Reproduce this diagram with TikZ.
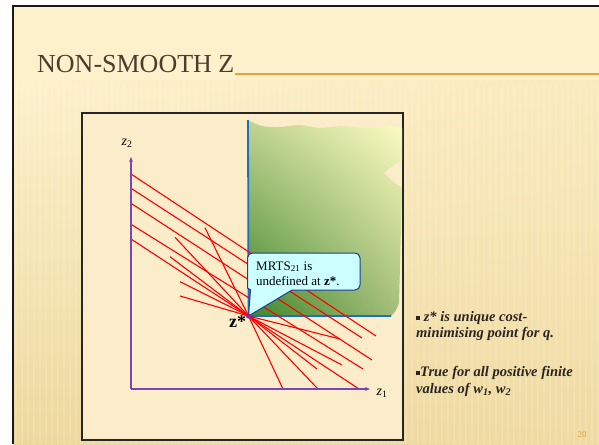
\documentclass[tikz,border=0pt]{standalone}
\usepackage{fontspec}
\setmainfont{Liberation Serif}
\usetikzlibrary{arrows.meta,shadings}
\definecolor{slidebg}{HTML}{FDF1CB}
\definecolor{slidebgB}{HTML}{FAEABD}
\definecolor{slidetan}{HTML}{EDD89C}
\definecolor{slidetanB}{HTML}{EFDAA2}
\definecolor{titlebrown}{HTML}{4B3C30}
\definecolor{ruleorange}{HTML}{E9A23B}
\definecolor{boxbg}{HTML}{FCEDCA}
\definecolor{axispurple}{HTML}{7A45B5}
\definecolor{bluebd}{HTML}{1A6FC0}
\definecolor{gLL}{HTML}{3C862A}
\definecolor{gUR}{HTML}{FDFDC2}
\definecolor{gUL}{HTML}{C0D392}
\definecolor{gLR}{HTML}{A6BE7B}
\definecolor{callfill}{HTML}{CCFFFF}
\definecolor{callbd}{HTML}{1F3A93}
\definecolor{dotpurple}{HTML}{8B2A9B}
\definecolor{textdark}{HTML}{2A2520}
\definecolor{pagenum}{HTML}{E3A040}
\tikzset{
  redline/.style={draw=red, line width=1.1pt},
  axisline/.style={draw=axispurple, line width=1.3pt, -{Stealth[length=5pt,width=4pt]}},
  blueline/.style={draw=bluebd, line width=1.8pt},
  stripe/.style={draw=white, line width=2.2pt, opacity=0.15},
  bodytext/.style={anchor=base west, inner sep=0pt, text=textdark, font=\fontsize{14.5}{17}\selectfont\bfseries\itshape},
  axlabel/.style={inner sep=0pt, font=\fontsize{14}{16}\selectfont\itshape},
  calltext/.style={anchor=base west, inner sep=0pt, font=\fontsize{13}{15}\selectfont}
}
\newcommand{\sqbul}{\raisebox{1.5pt}{\rule{4pt}{4pt}}}
\begin{document}
\begin{tikzpicture}[x=1pt,y=-1pt]
\useasboundingbox (0,0) rectangle (599,444);
% slide background
\fill[white] (0,0) rectangle (599,444);
\fill[slidebg] (13,6) rectangle (599,444);
\shade[upper left=slidebg, upper right=slidebgB, lower left=slidetan, lower right=slidetanB] (13,80) rectangle (599,444);
\foreach \x in {16,22,...,598} \draw[stripe] (\x,85) -- (\x,444);
\draw[line width=2pt, draw=black!90] (12.5,444) -- (12.5,6.5) -- (599,6.5);
% title
\node[anchor=base west, inner sep=0pt, text=titlebrown, font=\fontsize{26}{30}\selectfont] (title) at (37,72) {NON-SMOOTH Z};
\coordinate (ruleend) at (599,73.5);
\draw[draw=ruleorange, line width=2pt] (title.east |- ruleend) -- (ruleend);
% inner box
\draw[fill=boxbg, line width=1.2pt, draw=black!85] (82,113) rectangle (403,440);
% green region
\shade[upper left=gUL, upper right=gUR, lower left=gLL, lower right=gLR]
  (248,316) -- (248,120) -- plot[smooth] coordinates {(248,120) (262,126) (280,127) (300,125) (320,128) (342,126) (365,128) (385,126) (402,128)}
  -- (402,160) .. controls (392,166) .. (384,173) .. controls (392,181) .. (402,188) -- (399,303) .. controls (396,311) .. (391,316) -- cycle;
\coordinate (zs) at (248.5,316);
\coordinate (top) at (248,120);
\coordinate (bend) at (391,316);
\draw[blueline] (top) -- (zs) -- (bend);
% axes
\coordinate (O) at (131,389);
\coordinate (ytip) at (131,157);
\coordinate (xtip) at (370,389);
% red iso-cost lines
\draw[redline] (131,174) -- (376,336);
\draw[redline] (131,188.3) -- (362,338);
\draw[redline] (131,203.3) -- (372,360);
\draw[redline] (131,224.3) -- (363,369);
\draw[redline] (131,239) -- (zs) -- (359,389);
\draw[redline] (205,227.7) -- (zs) -- (283,389);
\draw[redline] (175,237.3) -- (zs) -- (318,389);
\draw[redline] (170,256.7) -- (zs) -- (317,369);
\draw[redline] (180,281.7) -- (zs) -- (342,365);
\draw[redline] (180,296) -- (zs) -- (340,339);
\draw[axisline] (O) -- (ytip);
\draw[axisline] (O) -- (xtip);
\node[axlabel] (z2) at (127,143) {z\textsubscript{\upshape 2}};
\node[axlabel] (z1) at (382,393) {z\textsubscript{\upshape 1}};
% callout
\draw[fill=callfill, draw=callbd, line width=1pt]
  (zs) -- (292,290) [rounded corners=5pt] -- (360,290) -- (360,253) -- (247.5,253) [sharp corners] -- (247.5,288) -- (250.5,290) -- cycle;
\node[calltext] (c1) at (256,270) {MRTS\textsubscript{21} is};
\node[calltext] (c2) at (256,285) {undefined at \textbf{z*}.};
\fill[dotpurple] (zs) circle (2.6pt);
\node[anchor=base, inner sep=0pt, font=\fontsize{18}{20}\selectfont\bfseries] (zlab) at (237.5,327) {z*};
% right text
\node[bodytext] (t1) at (416,321) {\sqbul\ z* is unique cost-};
\node[bodytext] (t2) at (416,337) {minimising point for q.};
\node[bodytext] (t3) at (416,376) {\sqbul True for all positive finite};
\node[bodytext] (t4) at (416,393) {values of w\textsubscript{1}, w\textsubscript{2}};
\node[anchor=base, inner sep=0pt, text=pagenum, font=\fontsize{9}{10}\selectfont] (pg) at (582,437) {20};
\end{tikzpicture}
\end{document}
